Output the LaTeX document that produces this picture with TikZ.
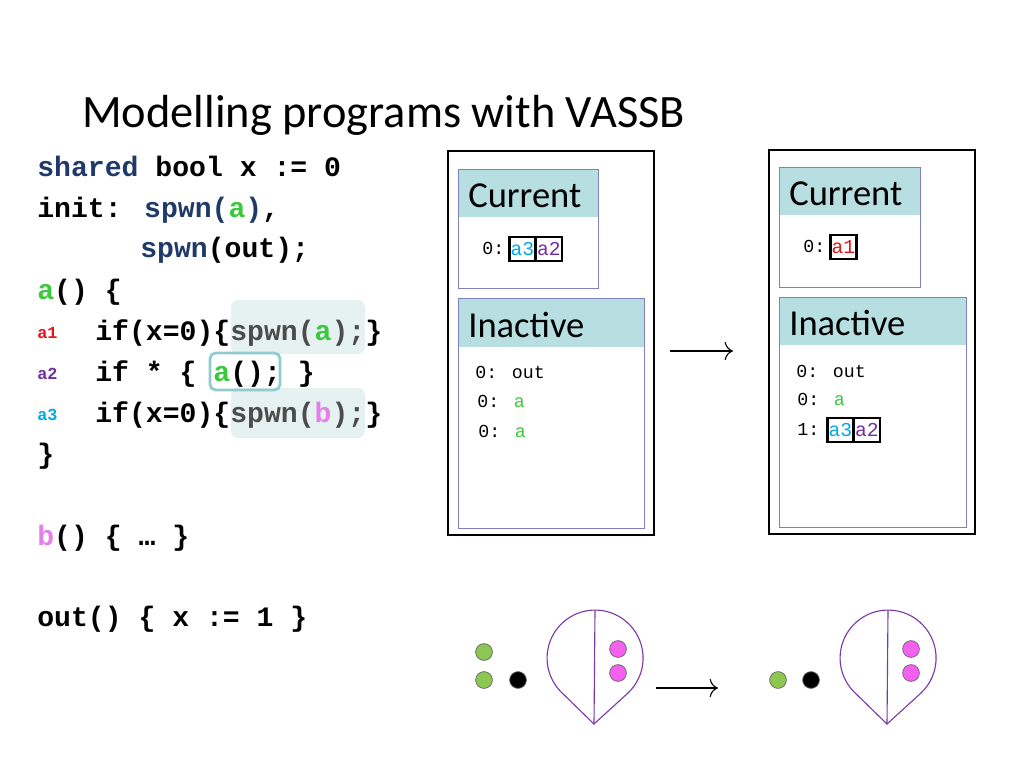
\documentclass[tikz,border=0pt]{standalone}
\usepackage{fontspec}
\setmainfont{Carlito}
\newfontfamily\codefont{Liberation Mono}
\usetikzlibrary{positioning,arrows.meta}
\definecolor{kw}{HTML}{1F3A68}
\definecolor{ga}{HTML}{3CC83C}
\definecolor{ra}{HTML}{E8121A}
\definecolor{pa}{HTML}{7030A0}
\definecolor{ca}{HTML}{00A8E8}
\definecolor{pb}{HTML}{E47FE8}
\definecolor{hl}{HTML}{E6F1F2}
\definecolor{hdr}{HTML}{B7DEE0}
\definecolor{frame}{HTML}{8080C0}
\definecolor{drop}{HTML}{7A3AA8}
\definecolor{gdot}{HTML}{8CC751}
\definecolor{pdot}{HTML}{F460F0}
\tikzset{
  code/.style={anchor=base west, inner sep=0pt, font=\codefont\bfseries\fontsize{20}{20}\selectfont},
  lbl/.style={anchor=base west, inner sep=0pt, font=\codefont\bfseries\fontsize{12}{12}\selectfont},
  small/.style={anchor=base west, inner sep=0pt, font=\codefont\fontsize{13}{13}\selectfont},
  cell/.style={draw, line width=1.8pt, inner sep=1pt, minimum height=0.6cm, font=\codefont\fontsize{14}{14}\selectfont},
  hdrtext/.style={anchor=base west, inner sep=0pt, font=\fontsize{26}{26}\selectfont},
  box/.style={draw=frame, line width=0.7pt},
  dot/.style={circle, draw=black!60, line width=0.5pt, minimum size=0.42cm, inner sep=0pt},
  trans/.style={-{To[length=6pt,width=13pt]}, line width=0.8pt}
}
\begin{document}
\begin{tikzpicture}[x=0.025cm, y=-0.025cm]
\useasboundingbox (0,0) rectangle (1024,768);

\node[anchor=base west, inner sep=0pt, font=\fontsize{33}{33}\selectfont] (title) at (82,128) {Modelling programs with VASSB};

% highlights behind the code
\fill[hl, rounded corners=5pt] (231,300) rectangle (365,354);
\fill[hl, rounded corners=5pt] (231,388) rectangle (365,438);
\draw[hdr!80!teal, line width=2pt, rounded corners=4pt] (210,353) rectangle (280,390);

% the program
\node[code] (l1) at (37,176) {\textcolor{kw}{shared} bool x := 0};
\node[code] (l2) at (37,217) {init: \textcolor{kw}{spwn(}\textcolor{ga}{a}\textcolor{kw}{)},};
\node[code] (l3) at (140,257) {\textcolor{kw}{spwn}(out);};
\node[code] (l4) at (37,299) {\textcolor{ga}{a}() \{};
\node[code] (l5) at (95,340) {if(x=0)\{\textcolor{black!70}{spwn(\textcolor{ga}{a});}\}};
\node[code] (l6) at (95,381) {if * \{ \textcolor{ga}{a}(); \}};
\node[code] (l7) at (95,422) {if(x=0)\{\textcolor{black!70}{spwn(\textcolor{pb}{b});}\}};
\node[code] (l8) at (37,463) {\}};
\node[code] (l9) at (37,545) {\textcolor{pb}{b}() \{ … \}};
\node[code] (l10) at (37,626) {out() \{ x := 1 \}};
\node[lbl, text=ra] (a1) at (37,338) {a1};
\node[lbl, text=pa] (a2) at (37,379) {a2};
\node[lbl, text=ca] (a3) at (37,420) {a3};

% configuration before
\draw[line width=1.5pt] (448,151) rectangle (654,535);
\fill[hdr] (458,169) rectangle (598,217);
\draw[box] (458,169) rectangle (598,288);
\node[hdrtext] (cur1) at (468,207) {Current};
\fill[hdr] (458,298) rectangle (644,347);
\draw[box] (458,298) rectangle (644,528);
\node[hdrtext] (ina1) at (468,337) {Inactive};
\node[small] (c1) at (482,254) {0:};
\node[cell, text=ca, anchor=west] (c1a) at (508,249) {a3};
\node[cell, text=pa, right=-1.8pt of c1a] (c1b) {a2};
\node[small] (i1a) at (475,378) {0: out};
\node[small] (i1b) at (477,407) {0: \textcolor{ga}{a}};
\node[small] (i1c) at (478,437) {0: \textcolor{ga}{a}};

% configuration after
\draw[line width=1.5pt] (769,150) rectangle (975,534);
\fill[hdr] (779,167) rectangle (920,215);
\draw[box] (779,167) rectangle (920,287);
\node[hdrtext] (cur2) at (789,205) {Current};
\fill[hdr] (779,297) rectangle (966,345);
\draw[box] (779,297) rectangle (966,527);
\node[hdrtext] (ina2) at (789,335) {Inactive};
\node[small] (c2) at (803,252) {0:};
\node[cell, text=ra, anchor=west] (c2a) at (829,247) {a1};
\node[small] (i2a) at (796,377) {0: out};
\node[small] (i2b) at (797,405) {0: \textcolor{ga}{a}};
\node[small] (i2c) at (797,435) {1:};
\node[cell, text=ca, anchor=west] (i2d) at (826,430) {a3};
\node[cell, text=pa, right=-1.8pt of i2d] (i2e) {a2};

\coordinate (s1) at (670,351);
\coordinate (t1) at (733,351);
\draw[trans] (s1) -- (t1);

% VASS picture
\node[dot, fill=gdot] (g1) at (484,652) {};
\node[dot, fill=gdot] (g2) at (484,680) {};
\node[dot, fill=black] (k1) at (518,680) {};
\draw[drop, line width=0.8pt] (594,724) -- (628,693) arc[start angle=46.7, end angle=-226.7, radius=48] -- cycle;
\draw[drop, line width=0.8pt] (595,610) -- (594,724);
\node[dot, fill=pdot] (p1) at (618,649) {};
\node[dot, fill=pdot] (p2) at (618,673) {};

\coordinate (s2) at (656,688);
\coordinate (t2) at (718,688);
\draw[trans] (s2) -- (t2);

\node[dot, fill=gdot] (g3) at (778,680) {};
\node[dot, fill=black] (k2) at (811,680) {};
\draw[drop, line width=0.8pt] (887,724) -- (921,693) arc[start angle=46.7, end angle=-226.7, radius=48] -- cycle;
\draw[drop, line width=0.8pt] (888,610) -- (887,724);
\node[dot, fill=pdot] (p3) at (911,649) {};
\node[dot, fill=pdot] (p4) at (911,673) {};
\end{tikzpicture}
\end{document}
